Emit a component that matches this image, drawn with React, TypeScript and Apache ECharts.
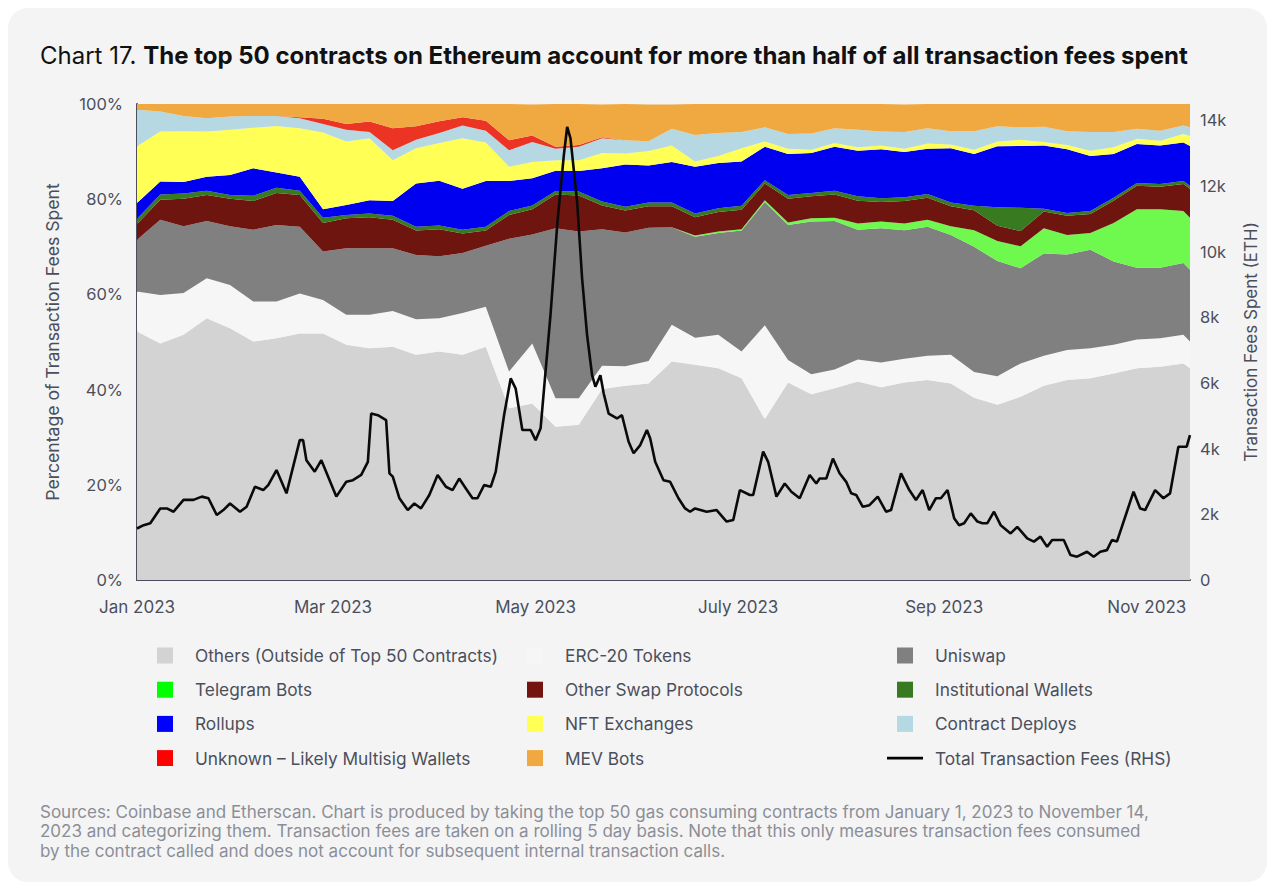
import { useEffect, useRef } from 'react';
import * as echarts from 'echarts';

// ---------- Data ----------
// sample days (offset from 2023-01-01) for the stacked shares
const AREA_DAYS = [0, 7, 14, 21, 28, 35, 42, 49, 56, 63, 70, 77, 84, 91, 98, 105, 112, 119, 126, 133, 140, 147, 154, 161, 168, 175, 182, 189, 196, 203, 210, 217, 224, 231, 238, 245, 252, 259, 266, 273, 280, 287, 294, 301, 308, 315, 317];

const OTHERS = [52.2, 49.7, 51.5, 55.0, 52.9, 50.1, 50.8, 51.8, 51.8, 49.4, 48.7, 49.0, 47.3, 48.0, 47.3, 49.0, 36.1, 37.1, 32.2, 32.6, 40.1, 40.8, 41.3, 45.9, 45.2, 44.5, 42.4, 33.8, 41.5, 39.0, 40.3, 41.7, 40.5, 41.5, 42.0, 41.3, 38.3, 36.8, 38.5, 40.8, 42.0, 42.4, 43.4, 44.5, 44.8, 45.5, 44.5];
const ERC20 = [8.4, 10.2, 8.8, 8.4, 9.1, 8.4, 7.7, 8.4, 7.0, 6.3, 7.0, 7.5, 7.5, 7.0, 8.8, 8.4, 7.7, 12.6, 6.0, 5.6, 4.9, 4.1, 4.7, 7.7, 5.7, 7.0, 5.6, 19.7, 4.7, 4.2, 3.9, 4.6, 5.2, 5.0, 5.1, 6.0, 5.4, 6.0, 7.0, 6.3, 6.3, 6.3, 6.0, 6.0, 6.0, 6.0, 5.6];
const UNISWAP = [10.9, 15.8, 14.0, 12.0, 12.3, 15.1, 16.1, 14.0, 10.2, 14.0, 14.0, 13.2, 13.5, 13.0, 12.6, 12.8, 27.9, 22.9, 35.7, 35.0, 28.7, 28.1, 28.0, 20.5, 21.2, 21.4, 25.4, 25.9, 28.4, 32.1, 31.2, 27.3, 28.2, 27.0, 27.1, 25.2, 26.3, 24.2, 20.0, 21.5, 20.1, 20.7, 17.5, 15.1, 14.8, 15.1, 15.1];
const TELEGRAM = [0, 0, 0, 0, 0, 0, 0, 0, 0, 0, 0, 0, 0, 0, 0, 0, 0, 0, 0, 0, 0, 0, 0, 0, 0.3, 0.3, 0.3, 0.4, 0.5, 0.7, 0.7, 1.3, 1.4, 1.4, 1.5, 1.8, 3.5, 4.2, 4.6, 5.3, 4.1, 3.5, 8.1, 12.3, 12.3, 10.9, 10.9];
const OTHER_SWAP = [3.3, 4.2, 5.8, 5.5, 5.8, 6.0, 6.7, 6.7, 6.0, 6.3, 6.5, 6.0, 5.1, 5.7, 4.1, 3.2, 5.0, 5.3, 7.1, 7.6, 5.0, 4.6, 4.5, 4.4, 3.8, 4.1, 4.1, 3.5, 5.0, 4.6, 4.9, 4.8, 4.1, 4.7, 4.6, 4.2, 4.2, 3.2, 3.2, 3.5, 4.0, 4.0, 4.7, 4.9, 4.7, 5.7, 6.1];
const INSTITUTIONAL = [1.1, 1.1, 1.1, 0.9, 0.8, 1.1, 1.1, 0.9, 1.1, 0.7, 0.8, 0.8, 0.8, 0.8, 0.8, 0.8, 0.8, 0.8, 0.7, 0.8, 0.8, 0.8, 0.8, 0.8, 0.8, 0.8, 0.8, 0.7, 0.8, 0.7, 0.8, 0.9, 0.8, 0.8, 0.8, 0.8, 0.9, 3.9, 4.9, 0.6, 0.6, 0.6, 0.6, 0.6, 0.6, 0.6, 0.6];
const ROLLUPS = [3.3, 2.7, 2.4, 2.9, 4.2, 5.8, 3.2, 2.9, 1.8, 2.1, 2.8, 3.1, 9.1, 9.4, 8.6, 9.6, 6.3, 5.7, 4.3, 4.3, 7.0, 8.9, 7.8, 8.5, 9.8, 9.5, 9.3, 7.0, 8.6, 8.4, 9.2, 9.6, 10.3, 9.5, 9.5, 11.4, 10.9, 12.8, 13.0, 13.3, 13.4, 11.6, 9.2, 8.2, 8.1, 8.1, 8.4];
const NFT = [11.9, 10.5, 10.7, 9.5, 9.5, 8.5, 9.8, 10.2, 16.1, 13.3, 13.0, 8.6, 7.4, 7.9, 10.6, 8.1, 3.0, 3.4, 2.2, 2.3, 3.2, 2.3, 3.0, 3.5, 1.1, 1.5, 2.8, 1.1, 1.1, 0.7, 0.8, 0.7, 0.8, 0.7, 1.1, 0.8, 0.9, 1.0, 1.3, 0.7, 0.9, 1.1, 1.4, 1.1, 1.0, 1.8, 2.1];
const DEPLOYS = [7.7, 4.2, 3.2, 2.8, 2.8, 2.5, 2.1, 2.1, 1.8, 2.5, 1.3, 2.1, 1.8, 2.1, 2.7, 2.5, 3.5, 4.2, 2.4, 2.8, 3.1, 2.8, 2.1, 3.5, 5.6, 4.8, 3.4, 3.0, 3.1, 3.4, 3.1, 3.7, 2.9, 3.5, 3.2, 2.8, 3.9, 3.2, 2.6, 3.2, 2.9, 3.9, 3.2, 2.1, 2.1, 1.8, 1.8];
const UNKNOWN = [0, 0, 0, 0, 0, 0, 0, 0.2, 1.1, 1.2, 2.2, 4.6, 2.8, 2.5, 1.7, 2.1, 2.1, 1.4, 0.4, 0.4, 0.2, 0, 0, 0, 0, 0, 0, 0, 0, 0, 0, 0, 0, 0, 0, 0, 0, 0, 0, 0, 0, 0, 0, 0, 0, 0, 0];
const MEV = [1.3, 1.8, 2.7, 3.0, 2.7, 2.7, 2.7, 2.8, 3.4, 4.3, 3.7, 5.1, 4.8, 3.7, 2.9, 3.6, 7.6, 6.5, 9.0, 8.6, 6.9, 7.6, 7.7, 5.1, 6.5, 6.2, 6.0, 4.9, 6.4, 6.2, 5.3, 5.5, 5.8, 5.8, 5.1, 5.7, 5.7, 4.9, 5.1, 4.9, 5.7, 6.2, 6.0, 5.5, 5.7, 4.8, 5.1];

// total transaction fees (ETH), rolling 5 day
const FEE_DAYS = [0, 2, 4, 7, 9, 11, 14, 17, 19.5, 21.5, 24, 26, 28, 31, 33, 35.5, 38, 39.5, 42, 45, 49, 50, 51, 53.5, 55.5, 60, 63, 65, 67.5, 69.5, 70.5, 72.5, 75, 76, 77, 79, 81.5, 83.5, 85.5, 88, 90.5, 93, 95, 97, 99, 101, 102.5, 104.5, 106.5, 108, 110.5, 112.5, 114, 116, 118.5, 120, 121.5, 124.5, 126.5, 128.5, 129.5, 130.5, 132.5, 134, 135.5, 137, 138, 139.5, 140.5, 142, 144.5, 146, 148, 149.5, 151.5, 153.5, 154.5, 156, 158.5, 160.5, 163, 165, 166.5, 168, 171.5, 174.5, 177.5, 179.5, 181.5, 184.5, 185.5, 188.5, 190, 192.5, 195, 197, 199.5, 202.5, 204.5, 205.5, 207.5, 209.5, 211.5, 213.5, 215, 216.5, 218.5, 220.5, 223, 225.5, 227, 230, 232.5, 234.5, 236.5, 238.5, 240.5, 242, 244, 246, 247.5, 249, 251, 253, 254.5, 256, 258, 260, 263, 265, 268, 270, 272, 274, 275.5, 279, 281, 283, 286, 288, 290, 292, 293.5, 295, 298, 300, 302, 303.5, 306.5, 309, 311, 313.5, 316, 317];
const FEE_VALUES = [1570, 1670, 1730, 2180, 2180, 2080, 2440, 2440, 2540, 2490, 1980, 2130, 2330, 2080, 2230, 2840, 2740, 2890, 3350, 2640, 4260, 4260, 3650, 3300, 3650, 2540, 2990, 3040, 3200, 3600, 5070, 5020, 4870, 3250, 3150, 2490, 2130, 2330, 2180, 2590, 3200, 2840, 2740, 3090, 2790, 2490, 2490, 2890, 2840, 3300, 5020, 6140, 5830, 4570, 4570, 4260, 4620, 8100, 10810, 12940, 13800, 13450, 11520, 9180, 7460, 6240, 5890, 6240, 5680, 5070, 4920, 5020, 4210, 3860, 4110, 4570, 4310, 3600, 3040, 2990, 2490, 2180, 2080, 2180, 2080, 2130, 1780, 1830, 2740, 2590, 2590, 3910, 3600, 2540, 2940, 2690, 2490, 3200, 2940, 3090, 3090, 3700, 3250, 2990, 2640, 2590, 2230, 2280, 2540, 2080, 2130, 3250, 2740, 2440, 2740, 2130, 2490, 2490, 2740, 1880, 1670, 1730, 2030, 1780, 1730, 1730, 2080, 1670, 1420, 1620, 1270, 1170, 1320, 1010, 1220, 1220, 760, 710, 860, 710, 860, 910, 1220, 1170, 2080, 2690, 2180, 2130, 2740, 2490, 2640, 4060, 4060, 4410];

const MONTH_TICK_DAYS = [0, 59, 120, 181, 243, 304];
const MONTH_LABELS = ['Jan 2023', 'Mar 2023', 'May 2023', 'July 2023', 'Sep 2023', 'Nov 2023'];
const PCT_TICKS_MAX = 100;
const FEE_AXIS_MAX = 14500;

const SERIES_NAMES = [
  'Others (Outside of Top 50 Contracts)',
  'ERC-20 Tokens',
  'Uniswap',
  'Telegram Bots',
  'Other Swap Protocols',
  'Institutional Wallets',
  'Rollups',
  'NFT Exchanges',
  'Contract Deploys',
  'Unknown – Likely Multisig Wallets',
  'MEV Bots',
];
const LINE_NAME = 'Total Transaction Fees (RHS)';
const AREA_VALUES = [OTHERS, ERC20, UNISWAP, TELEGRAM, OTHER_SWAP, INSTITUTIONAL, ROLLUPS, NFT, DEPLOYS, UNKNOWN, MEV];
const AREA_COLORS = ['#d3d3d3', '#f6f6f6', '#808080', '#6ff84e', '#6e1510', '#377a20', '#0000f0', '#ffff55', '#b5d8e3', '#eb3424', '#f0a940'];
const LEGEND_COLORS = ['#d3d3d3', '#f6f6f6', '#808080', '#00ff00', '#731410', '#377a20', '#0000ff', '#ffff55', '#b5d8e3', '#ff0000', '#f0a940'];

// ---------- helpers ----------
const START = new Date(2023, 0, 1).getTime();
const DAY_MS = 86400000;
const ts = (d: number) => START + d * DAY_MS;

const FONT = 'Inter';
const AXIS_TEXT = '#4b4f5c';
const SQUARE = 'path://M0,0H16V16H0Z';
const LINE_ICON = 'path://M0,0H36V2.8H0Z';

function legendItem(name: string) {
  const idx = SERIES_NAMES.indexOf(name);
  if (idx < 0) {
    return { name, icon: LINE_ICON, itemStyle: { color: '#000000' } };
  }
  return { name, icon: SQUARE, itemStyle: { color: LEGEND_COLORS[idx] } };
}

function monthLabel(v: number) {
  const i = MONTH_TICK_DAYS.findIndex((d) => Math.abs(ts(d) - v) < DAY_MS / 2);
  return i >= 0 ? MONTH_LABELS[i] : '';
}

function buildOption() {
  const areaSeries = SERIES_NAMES.map((name, i) => ({
    name,
    type: 'line',
    stack: 'share',
    yAxisIndex: 0,
    symbol: 'none',
    showSymbol: false,
    silent: true,
    smooth: false,
    lineStyle: { width: 0 },
    itemStyle: { color: AREA_COLORS[i] },
    areaStyle: { color: AREA_COLORS[i], opacity: 1 },
    emphasis: { disabled: true },
    data: AREA_DAYS.map((d, k) => [ts(d), AREA_VALUES[i][k]]),
    z: 2,
  }));

  const lineSeries = {
    name: LINE_NAME,
    type: 'line',
    yAxisIndex: 1,
    symbol: 'none',
    showSymbol: false,
    silent: true,
    smooth: false,
    lineStyle: { color: '#0a0a0a', width: 2.6 },
    itemStyle: { color: '#000000' },
    emphasis: { disabled: true },
    data: FEE_DAYS.map((d, k) => [ts(d), FEE_VALUES[k]]),
    z: 5,
  };

  const legendBase = {
    orient: 'vertical',
    top: 639,
    padding: 0,
    itemWidth: 36,
    itemHeight: 16,
    itemGap: 17.2,
    selectedMode: false,
    textStyle: { fontFamily: FONT, fontSize: 17.3, color: AXIS_TEXT, lineHeight: 16, padding: [0, 0, 0, 7] },
  };

  return {
    animation: false,
    textStyle: { fontFamily: FONT },
    title: [
      {
        left: 32,
        top: 33,
        padding: 0,
        text: '{a|Chart 17. }{b|The top 50 contracts on Ethereum account for more than half of all transaction fees spent}',
        textStyle: {
          rich: {
            a: { fontFamily: FONT, fontSize: 24, fontWeight: 'normal', color: '#111111', lineHeight: 28 },
            b: { fontFamily: FONT, fontSize: 24, fontWeight: 'bold', color: '#111111', lineHeight: 28 },
          },
        },
      },
      {
        left: 32,
        top: 794,
        padding: 0,
        text:
          'Sources: Coinbase and Etherscan. Chart is produced by taking the top 50 gas consuming contracts from January 1, 2023 to November 14,\n' +
          '2023 and categorizing them. Transaction fees are taken on a rolling 5 day basis. Note that this only measures transaction fees consumed\n' +
          'by the contract called and does not account for subsequent internal transaction calls.',
        textStyle: { fontFamily: FONT, fontSize: 17, fontWeight: 'normal', color: '#8b8e97', lineHeight: 19.5 },
      },
    ],
    legend: [
      { ...legendBase, left: 149, data: [SERIES_NAMES[0], SERIES_NAMES[3], SERIES_NAMES[6], SERIES_NAMES[9]].map(legendItem) },
      { ...legendBase, left: 519, data: [SERIES_NAMES[1], SERIES_NAMES[4], SERIES_NAMES[7], SERIES_NAMES[10]].map(legendItem) },
      { ...legendBase, left: 879, data: [SERIES_NAMES[2], SERIES_NAMES[5], SERIES_NAMES[8], LINE_NAME].map(legendItem) },
    ],
    grid: { left: 129, right: 77, top: 96, bottom: 302, containLabel: false },
    xAxis: {
      type: 'time',
      min: ts(0),
      max: ts(317),
      axisLine: { show: true, lineStyle: { color: '#4b4f5c', width: 2 } },
      axisTick: { show: false },
      splitLine: { show: false },
      axisLabel: {
        fontFamily: FONT,
        fontSize: 17,
        color: AXIS_TEXT,
        margin: 18,
        hideOverlap: false,
        showMaxLabel: false,
        formatter: (v: number) => monthLabel(v),
      },
    },
    yAxis: [
      {
        type: 'value',
        min: 0,
        max: PCT_TICKS_MAX,
        interval: 20,
        position: 'left',
        name: 'Percentage of Transaction Fees Spent',
        nameLocation: 'middle',
        nameGap: 76,
        nameRotate: 90,
        nameTextStyle: { fontFamily: FONT, fontSize: 17.6, color: AXIS_TEXT },
        axisLine: { show: true, lineStyle: { color: '#4b4f5c', width: 2 } },
        axisTick: { show: false },
        splitLine: { show: false },
        axisLabel: { formatter: '{value}%', fontFamily: FONT, fontSize: 16.5, color: AXIS_TEXT, margin: 14 },
      },
      {
        type: 'value',
        min: 0,
        max: FEE_AXIS_MAX,
        interval: 2000,
        position: 'right',
        name: 'Transaction Fees Spent (ETH)',
        nameLocation: 'middle',
        nameGap: 52,
        nameRotate: 90,
        nameTextStyle: { fontFamily: FONT, fontSize: 17, color: AXIS_TEXT },
        axisLine: { show: false },
        axisTick: { show: false },
        splitLine: { show: false },
        axisLabel: {
          showMaxLabel: false,
          fontFamily: FONT,
          fontSize: 16.5,
          color: AXIS_TEXT,
          margin: 10,
          formatter: (v: number) => (v % 2000 !== 0 ? '' : v === 0 ? '0' : `${v / 1000}k`),
        },
      },
    ],
    series: [...areaSeries, lineSeries],
  };
}

export default function App() {
  const ref = useRef<HTMLDivElement>(null);
  useEffect(() => {
    if (!ref.current) return;
    const chart = echarts.init(ref.current, null, { renderer: 'svg' });
    chart.setOption(buildOption() as any);
    return () => chart.dispose();
  }, []);
  return (
    <div style={{ width: 1259, height: 874, background: '#f4f4f4', borderRadius: 20, overflow: 'hidden' }}>
      <div ref={ref} style={{ width: 1259, height: 874 }} />
    </div>
  );
}
